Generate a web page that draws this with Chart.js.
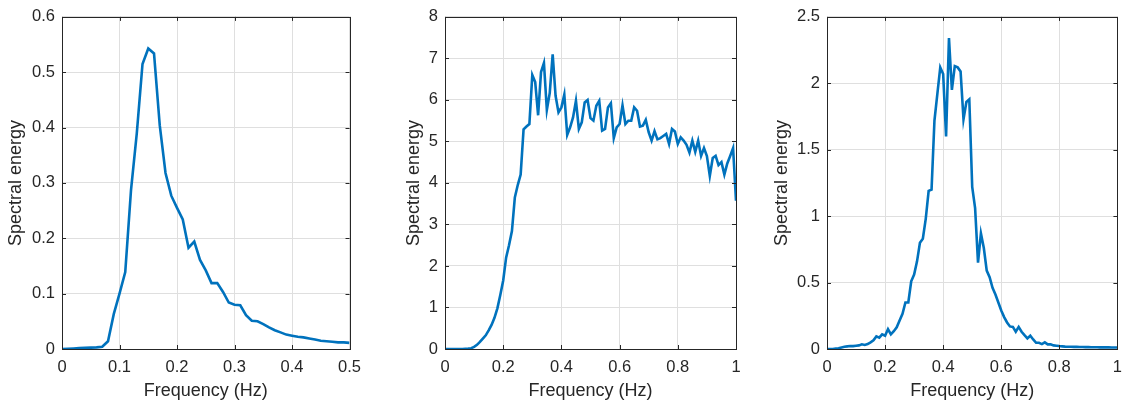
<!DOCTYPE html>
<html>
<head>
<meta charset="utf-8">
<script src="https://cdn.jsdelivr.net/npm/chart.js@4/dist/chart.umd.min.js"></script>
<style>
  html, body { margin: 0; padding: 0; background: #fff; }
  .panel { position: absolute; top: 0; height: 407px; }
</style>
</head>
<body>
<div class="panel" style="left:0;width:370px"><canvas id="c1"></canvas></div>
<div class="panel" style="left:370px;width:380px"><canvas id="c2"></canvas></div>
<div class="panel" style="left:750px;width:381px"><canvas id="c3"></canvas></div>
<script>
/* frequency samples (Hz) */
const freqA = [0, 0.01, 0.02, 0.03, 0.04, 0.05, 0.06, 0.07, 0.08, 0.09,
	0.1, 0.11, 0.12, 0.13, 0.14, 0.15, 0.16, 0.17, 0.18, 0.19,
	0.2, 0.21, 0.22, 0.23, 0.24, 0.25, 0.26, 0.27, 0.28, 0.29,
	0.3, 0.31, 0.32, 0.33, 0.34, 0.35, 0.36, 0.37, 0.38, 0.39,
	0.4, 0.41, 0.42, 0.43, 0.44, 0.45, 0.46, 0.47, 0.48, 0.49, 0.5]
const freqB = freqA.concat([0.51, 0.52, 0.53, 0.54, 0.55, 0.56, 0.57, 0.58, 0.59,
	0.6, 0.61, 0.62, 0.63, 0.64, 0.65, 0.66, 0.67, 0.68, 0.69,
	0.7, 0.71, 0.72, 0.73, 0.74, 0.75, 0.76, 0.77, 0.78, 0.79,
	0.8, 0.81, 0.82, 0.83, 0.84, 0.85, 0.86, 0.87, 0.88, 0.89,
	0.9, 0.91, 0.92, 0.93, 0.94, 0.95, 0.96, 0.97, 0.98, 0.99, 1])

/* spectral energy */
const energy1 = [0, 0.0005, 0.001, 0.0015, 0.002, 0.0025, 0.003, 0.004, 0.014, 0.063,
	0.1, 0.139, 0.287, 0.389, 0.515, 0.543, 0.534, 0.404, 0.318, 0.277,
	0.255, 0.234, 0.183, 0.194, 0.161, 0.142, 0.119, 0.119, 0.103, 0.084,
	0.08, 0.079, 0.061, 0.051, 0.05, 0.045, 0.039, 0.034, 0.03, 0.026,
	0.024, 0.022, 0.021, 0.019, 0.017, 0.015, 0.014, 0.013, 0.012, 0.012, 0.011]

const energy2 = [0, 0, 0, 0, 0, 0, 0, 0.005, 0.01, 0.02,
	0.05, 0.1, 0.17, 0.25, 0.33, 0.45, 0.58, 0.75, 0.98, 1.3,
	1.65, 2.2, 2.5, 2.84, 3.65, 3.95, 4.2, 5.29, 5.36, 5.42,
	6.6, 6.43, 5.63, 6.67, 6.89, 5.76, 6.17, 7.1, 6.1, 5.7,
	5.82, 6.13, 5.16, 5.34, 5.58, 5.98, 5.3, 5.46, 5.94, 6.0,
	5.56, 5.5, 5.86, 5.98, 5.26, 5.3, 5.82, 5.92, 5.08, 5.34,
	5.42, 5.87, 5.42, 5.5, 5.5, 5.82, 5.74, 5.36, 5.38, 5.52,
	5.22, 5.02, 5.25, 5.05, 5.08, 5.13, 5.18, 4.94, 5.3, 5.24,
	4.94, 5.1, 5.02, 4.92, 4.73, 5.02, 4.75, 5.02, 4.65, 4.84,
	4.65, 4.17, 4.6, 4.65, 4.43, 4.5, 4.2, 4.47, 4.65, 4.84, 3.57]

const energy3 = [0, 0, 0, 0.003, 0.005, 0.012, 0.017, 0.02, 0.022, 0.022,
	0.025, 0.027, 0.035, 0.03, 0.037, 0.05, 0.065, 0.095, 0.085, 0.11,
	0.1, 0.15, 0.11, 0.134, 0.163, 0.215, 0.265, 0.35, 0.35, 0.51,
	0.56, 0.66, 0.8, 0.83, 0.98, 1.19, 1.2, 1.72, 1.92, 2.12,
	2.07, 1.6, 2.34, 1.95, 2.13, 2.12, 2.09, 1.73, 1.86, 1.88,
	1.22, 1.06, 0.65, 0.87, 0.76, 0.59, 0.54, 0.46, 0.41, 0.35,
	0.29, 0.24, 0.2, 0.17, 0.166, 0.13, 0.166, 0.13, 0.104, 0.08,
	0.1, 0.072, 0.047, 0.047, 0.037, 0.05, 0.035, 0.035, 0.027, 0.025,
	0.022, 0.02, 0.018, 0.017, 0.017, 0.016, 0.016, 0.015, 0.015, 0.014,
	0.014, 0.013, 0.013, 0.013, 0.012, 0.012, 0.012, 0.012, 0.011, 0.011, 0.011]

/* axis limits / tick steps */
const xMax = [0.5, 1, 1]
const xStep = [0.1, 0.2, 0.2]
const yMax = [0.6, 8, 2.5]
const yStep = [0.1, 1, 0.5]

const xTitle = 'Frequency (Hz)'
const yTitle = 'Spectral energy'

const lineColor = '#0072BD'
const axisColor = '#262626'
const gridColor = '#dfdfdf'
const fontFamily = "'Liberation Sans', Arial, Helvetica, sans-serif"

// matlab style number: 1 not 1.0
const fmt = (v) => String(Math.round(v * 1000) / 1000)

/* matlab-like box with inward ticks */
const matlabAxes = {
	id: 'matlabAxes',
	afterDraw(chart) {
		const { ctx, chartArea: a, scales } = chart
		const len = 4
		ctx.save()
		ctx.strokeStyle = axisColor
		ctx.lineWidth = 1
		ctx.beginPath()
		scales.x.ticks.forEach((t) => {
			const px = Math.round(scales.x.getPixelForValue(t.value)) + 0.5
			ctx.moveTo(px, a.bottom)
			ctx.lineTo(px, a.bottom - len)
			ctx.moveTo(px, a.top)
			ctx.lineTo(px, a.top + len)
		})
		scales.y.ticks.forEach((t) => {
			const py = Math.round(scales.y.getPixelForValue(t.value)) + 0.5
			ctx.moveTo(a.left, py)
			ctx.lineTo(a.left + len, py)
			ctx.moveTo(a.right, py)
			ctx.lineTo(a.right - len, py)
		})
		ctx.stroke()
		ctx.strokeRect(Math.round(a.left) + 0.5, Math.round(a.top) + 0.5,
			Math.round(a.right - a.left), Math.round(a.bottom - a.top))
		ctx.restore()
	}
}

const makeChart = (id, freq, energy, i, yWidth, rightPad, yTitlePad) => {
	const points = freq.map((f, k) => ({ x: f, y: energy[k] }))
	return new Chart(id, {
		type: 'line',
		data: {
			datasets: [{
				data: points,
				borderColor: lineColor,
				borderWidth: 2.6,
				pointRadius: 0,
				tension: 0,
				fill: false
			}]
		},
		options: {
			responsive: true,
			maintainAspectRatio: false,
			animation: false,
			layout: { padding: { top: 14, right: rightPad, bottom: 0, left: 0 } },
			plugins: { legend: { display: false }, tooltip: { enabled: false } },
			scales: {
				x: {
					type: 'linear',
					min: 0,
					max: xMax[i],
					afterFit: (s) => { s.height = 58 },
					ticks: {
						stepSize: xStep[i],
						callback: fmt,
						color: axisColor,
						padding: 9,
						maxRotation: 0,
						font: { family: fontFamily, size: 16.5 }
					},
					grid: { color: gridColor, drawTicks: false },
					border: { display: false },
					title: {
						display: true,
						text: xTitle,
						color: axisColor,
						padding: { top: 0, bottom: 5 },
						font: { family: fontFamily, size: 18 }
					}
				},
				y: {
					min: 0,
					max: yMax[i],
					afterFit: (s) => { s.width = yWidth },
					ticks: {
						stepSize: yStep[i],
						callback: fmt,
						color: axisColor,
						padding: 7,
						font: { family: fontFamily, size: 16.5 }
					},
					grid: { color: gridColor, drawTicks: false },
					border: { display: false },
					title: {
						display: true,
						text: yTitle,
						color: axisColor,
						padding: { top: yTitlePad, bottom: 0 },
						font: { family: fontFamily, size: 18 }
					}
				}
			}
		},
		plugins: [matlabAxes]
	})
}

makeChart('c1', freqA, energy1, 0, 62, 18, 5.4)
makeChart('c2', freqB, energy2, 1, 75, 14, 33)
makeChart('c3', freqB, energy3, 2, 77, 13, 21.4)
</script>
</body>
</html>
